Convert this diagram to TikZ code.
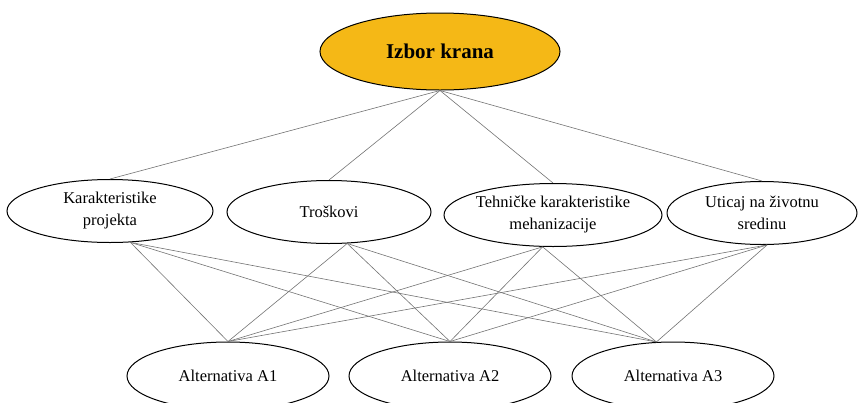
\documentclass[tikz,border=0pt]{standalone}
\usepackage{fontspec}
\setmainfont{Liberation Serif}
\usepackage{xcolor}
\usepackage{tikz}
\usetikzlibrary{shapes.geometric}
\definecolor{krangold}{RGB}{245,184,22}

\begin{document}
\begin{tikzpicture}[x=1pt,y=-1pt,
	crit/.style={ellipse,draw,line width=1pt,inner sep=0pt,minimum width=206pt,minimum height=63pt,align=center,font=\fontsize{16.5}{22}\selectfont},
	alt/.style={crit,minimum width=202pt,minimum height=68pt},
	goal/.style={crit,fill=krangold,minimum width=240pt,minimum height=77pt,font=\fontsize{21}{24}\selectfont\bfseries}]
		\useasboundingbox (0,0) rectangle (859,402);
		\node[goal] (G) at (440,51.5) {Izbor krana};
		\node[crit] (K) at (110,211) {Karakteristike\\projekta};
		\node[crit,minimum width=204pt] (T) at (329,212) {Troškovi};
		\node[crit,minimum width=214pt] (H) at (553,215) {Tehničke karakteristike\\mehanizacije};
		\node[crit,minimum width=190pt] (U) at (762,213) {Uticaj na životnu\\sredinu};
		\node[alt] (A1) at (228,376) {Alternativa A1};
		\node[alt] (A2) at (450,376) {Alternativa A2};
		\node[alt] (A3) at (673,376) {Alternativa A3};
		%
		\path[draw=black!55,line width=0.6pt]
		% goal to criteria
		(G.south) edge (K.north)
		(G.south) edge (T.north)
		(G.south) edge (H.north)
		(G.south) edge (U.north)
		% criteria to alternatives
		(K.-57) edge (A1.north)
		(K.-57) edge (A2.north)
		(K.-57) edge (A3.116)
		(T.-60) edge (A1.north)
		(T.-60) edge (A2.north)
		(T.-60) edge (A3.116)
		(H.-108) edge (A1.north)
		(H.-108) edge (A2.north)
		(H.-108) edge (A3.116)
		(U.-81) edge (A1.north)
		(U.-81) edge (A2.north)
		(U.-81) edge (A3.116);
	\end{tikzpicture}
\end{document}
